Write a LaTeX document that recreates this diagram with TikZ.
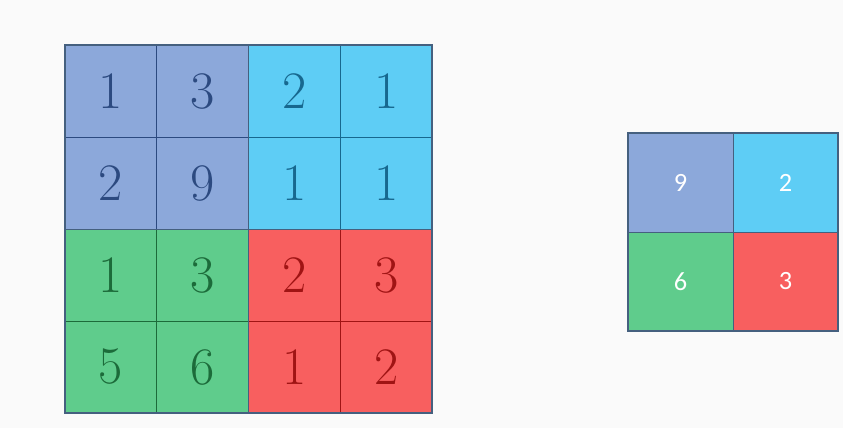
\documentclass[tikz,border=0pt]{standalone}
\usepackage{fontspec}
\newfontfamily\cellfont{Carlito}
\usepackage{xcolor}

\definecolor{bluecell}{HTML}{8CA8DA}
\definecolor{bluetext}{HTML}{2C4A80}
\definecolor{cyancell}{HTML}{5ECDF5}
\definecolor{cyantext}{HTML}{17688F}
\definecolor{greencell}{HTML}{5FCC8C}
\definecolor{greentext}{HTML}{1C6B3A}
\definecolor{redcell}{HTML}{F85F5F}
\definecolor{redtext}{HTML}{A01414}
\definecolor{gridedge}{HTML}{45607F}
\definecolor{bgpaper}{HTML}{FAFAFA}

\begin{document}
\begin{tikzpicture}[
  num/.style={font=\fontsize{30}{32}\selectfont},
  small/.style={font=\cellfont\fontsize{15}{17}\selectfont, text=white}
]

\fill[bgpaper] (0,0) rectangle (16.86,8.56);
\useasboundingbox (0,0) rectangle (16.86,8.56);

% input map
\fill[bluecell] (1.3,3.98) rectangle (4.97,7.66);
\fill[cyancell] (4.97,3.98) rectangle (8.64,7.66);
\fill[greencell] (1.3,0.3) rectangle (4.97,3.98);
\fill[redcell] (4.97,0.3) rectangle (8.64,3.98);
\draw[bluetext] (3.135,3.98) -- (3.135,7.66) (1.3,5.82) -- (4.97,5.82);
\draw[cyantext] (6.805,3.98) -- (6.805,7.66) (4.97,5.82) -- (8.64,5.82);
\draw[greentext] (3.135,0.3) -- (3.135,3.98) (1.3,2.14) -- (4.97,2.14);
\draw[redtext] (6.805,0.3) -- (6.805,3.98) (4.97,2.14) -- (8.64,2.14);
\draw[gridedge] (4.97,0.3) -- (4.97,7.66) (1.3,3.98) -- (8.64,3.98);
\draw[gridedge, thick] (1.3,0.3) rectangle (8.64,7.66);

\foreach \row/\a/\b/\c/\d [count=\j from 0] in {1/1/3/2/1, 2/2/9/1/1, 3/1/3/2/3, 4/5/6/1/2} {
  \pgfmathsetmacro{\yy}{6.74-\j*1.84}
  \ifnum\j<2
    \node[num, text=bluetext] (a\row1) at (2.2175,\yy) {\a};
    \node[num, text=bluetext] (a\row2) at (4.0525,\yy) {\b};
    \node[num, text=cyantext] (a\row3) at (5.8875,\yy) {\c};
    \node[num, text=cyantext] (a\row4) at (7.7225,\yy) {\d};
  \else
    \node[num, text=greentext] (a\row1) at (2.2175,\yy) {\a};
    \node[num, text=greentext] (a\row2) at (4.0525,\yy) {\b};
    \node[num, text=redtext] (a\row3) at (5.8875,\yy) {\c};
    \node[num, text=redtext] (a\row4) at (7.7225,\yy) {\d};
  \fi
}

% pooled map
\fill[bluecell] (12.56,3.92) rectangle (14.66,5.9);
\fill[cyancell] (14.66,3.92) rectangle (16.76,5.9);
\fill[greencell] (12.56,1.94) rectangle (14.66,3.92);
\fill[redcell] (14.66,1.94) rectangle (16.76,3.92);
\draw[gridedge] (14.66,1.94) -- (14.66,5.9) (12.56,3.92) -- (16.76,3.92);
\draw[gridedge, thick] (12.56,1.94) rectangle (16.76,5.9);
\node[small] (p11) at (13.61,4.91) {9};
\node[small] (p12) at (15.71,4.91) {2};
\node[small] (p21) at (13.61,2.93) {6};
\node[small] (p22) at (15.71,2.93) {3};

\end{tikzpicture}
\end{document}
